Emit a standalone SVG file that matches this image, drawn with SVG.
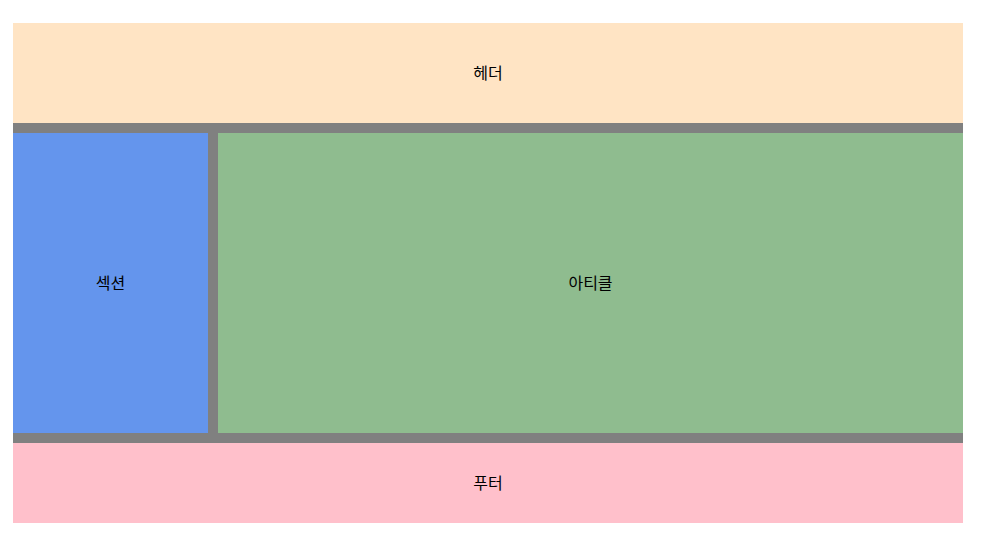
<svg xmlns="http://www.w3.org/2000/svg" width="981" height="557" viewBox="0 0 981 557">
<style>
text{font-family:"Noto Sans CJK KR","Noto Sans",sans-serif;font-size:16px;fill:#000;text-anchor:middle;dominant-baseline:central}
</style>
<rect x="0" y="0" width="981" height="557" fill="#fff"/>
<rect x="13" y="23" width="950" height="500" fill="#808080"/>
<g id="header"><rect x="13" y="23" width="950" height="100" fill="#FFE4C4"/><text x="488" y="72">헤더</text></g>
<g id="section"><rect x="13" y="133" width="195" height="300" fill="#6495ED"/><text x="110.5" y="282">섹션</text></g>
<g id="article"><rect x="218" y="133" width="745" height="300" fill="#8FBC8F"/><text x="590.5" y="282">아티클</text></g>
<g id="footer"><rect x="13" y="443" width="950" height="80" fill="#FFC0CB"/><text x="488" y="482">푸터</text></g>
<g id="connectors"></g>
</svg>
